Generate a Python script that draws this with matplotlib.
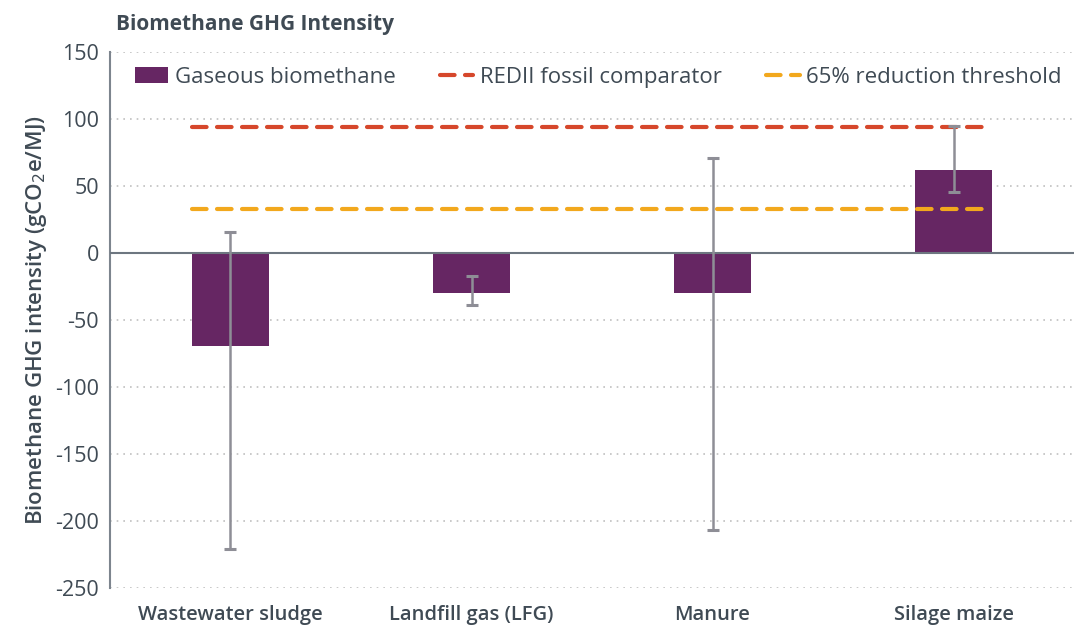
import matplotlib
matplotlib.use("Agg")
import matplotlib.pyplot as plt
import numpy as np

categories = ["Wastewater sludge", "Landfill gas (LFG)", "Manure", "Silage maize"]
values = [-69, -30, -30, 62]
err_high = [16, -17, 71, 95]
err_low = [-221, -39, -207, 46]
fossil_comparator = 94
reduction_threshold = 32.9
y_ticks = [-250, -200, -150, -100, -50, 0, 50, 100, 150]

plt.rcParams['font.family'] = ['Open Sans', 'DejaVu Sans']
text_col = '#3f4a54'

fig = plt.figure(figsize=(10.76, 6.28), dpi=100)
ax = fig.add_axes([0.1022, 0.0637, 0.896, 0.853])

x = np.arange(len(categories))
vals = np.array(values)
yerr = np.array([vals - np.array(err_low), np.array(err_high) - vals])
bars = ax.bar(x, vals, width=0.32, color='#662663', zorder=3, label='Gaseous biomethane')
ax.errorbar(x, vals, yerr=yerr, fmt='none', ecolor='#8e8e96', elinewidth=1.8,
            capsize=4, capthick=2.2, zorder=4)

xl = [x[0] - 0.16, x[-1] + 0.16]
l1, = ax.plot(xl, [fossil_comparator] * 2, color='#d6472b', lw=3, dashes=(3.5, 2.5),
              dash_capstyle='round', zorder=2, label='REDII fossil comparator')
l2, = ax.plot(xl, [reduction_threshold] * 2, color='#f2a81d', lw=3, dashes=(3.5, 2.5),
              dash_capstyle='round', zorder=5, label='65% reduction threshold')

ax.axhline(0, color='#6d7680', lw=1.5, zorder=3)
ax.set_xlim(-0.5, len(categories) - 0.5)
ax.set_ylim(-250, 150)
ax.set_yticks(y_ticks)
ax.set_yticklabels([str(t) for t in y_ticks], fontsize=15.5, color=text_col)
ax.set_xticks(x)
ax.set_xticklabels(categories, fontsize=14.5, color=text_col, fontweight='semibold')
ax.tick_params(axis='x', length=0, pad=12)
ax.tick_params(axis='y', length=0, pad=8)
ax.yaxis.grid(True, linestyle=(0, (1, 3)), color='#c0c0c0', lw=1.2, zorder=0)
for s in ['top', 'right', 'bottom']:
    ax.spines[s].set_visible(False)
ax.spines['left'].set_color('#7d858e')
ax.spines['left'].set_linewidth(1.5)

ax.set_ylabel('Biomethane GHG intensity (gCO$_2$e/MJ)', fontsize=16, color=text_col,
              labelpad=4, fontweight='semibold')
fig.text(0.108, 0.953, 'Biomethane GHG Intensity', fontsize=15, fontweight='bold', color=text_col)

leg = ax.legend(handles=[bars, l1, l2], loc='upper right', bbox_to_anchor=(1.008, 1.01), ncol=3,
                frameon=False, fontsize=16, handlelength=1.5, handletextpad=0.3, columnspacing=2.0)
for t in leg.get_texts():
    t.set_color(text_col)

fig.savefig('out.png', dpi=100)
